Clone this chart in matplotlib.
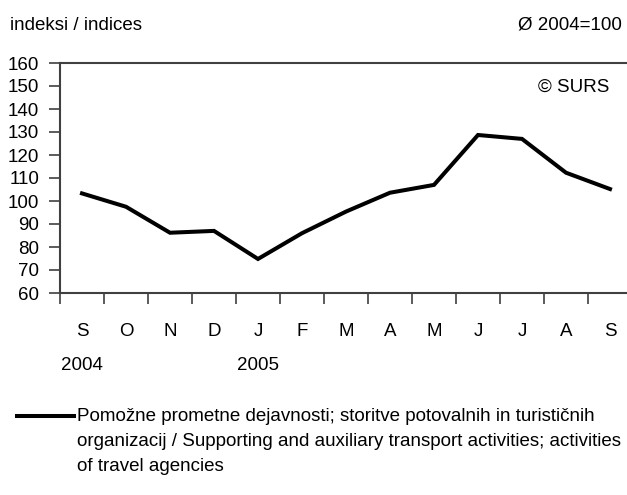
import matplotlib.pyplot as plt
import numpy as np

# Podatki (indeksi, povprecje 2004 = 100)
meseci = ['S', 'O', 'N', 'D', 'J', 'F', 'M', 'A', 'M', 'J', 'J', 'A', 'S']
leta = ['2004', '2005']
leta_pozicija = [0, 4]
indeksi = [103.3, 97.5, 86.2, 87.0, 74.8, 86.0, 95.4, 103.6, 107.0, 128.7, 127.0, 112.3, 105.2]
y_oznake = list(range(60, 170, 10))

legenda = ('Pomožne prometne dejavnosti; storitve potovalnih in turističnih\n'
           'organizacij / Supporting and auxiliary transport activities; activities\n'
           'of travel agencies')

plt.rcParams['font.family'] = ['Liberation Sans', 'DejaVu Sans']
fs = 13.5
siva = '#404040'

W, H = 627, 495
fig = plt.figure(figsize=(W / 100, H / 100), dpi=100)
ax = fig.add_axes([60 / W, 1 - 293 / H, 567 / W, (293 - 63) / H])

x = np.arange(len(meseci))
ax.plot(x, indeksi, color='black', linewidth=2.9, solid_joinstyle='miter')

ax.set_ylim(60, 160)
ax.set_xlim(-0.5, -0.5 + 567 / 44)
ax.set_yticks(y_oznake)
ax.set_yticklabels([str(v) for v in y_oznake], fontsize=fs)
ax.set_xticks(np.arange(-0.5, 12, 1))
ax.set_xticklabels([])

for s in ['left', 'top', 'bottom']:
    ax.spines[s].set_color(siva)
    ax.spines[s].set_linewidth(1.5)
ax.spines['right'].set_visible(False)
ax.tick_params(axis='both', direction='out', length=8, width=1.2, color=siva)
ax.tick_params(axis='y', pad=7)

# mesecne oznake in leta
for i, m in enumerate(meseci):
    ax.text(i, 1 - (332 - 63) / 230, m, transform=ax.get_xaxis_transform(),
            ha='center', va='center', fontsize=fs)
for p, l in zip(leta_pozicija, leta):
    ax.text(p, 1 - (366 - 63) / 230, l, transform=ax.get_xaxis_transform(),
            ha='center', va='center', fontsize=fs)

fig.text(10 / W, 1 - 25 / H, 'indeksi / indices', ha='left', va='center', fontsize=fs)
fig.text(622 / W, 1 - 25 / H, 'Ø 2004=100', ha='right', va='center', fontsize=fs)
fig.text(609 / W, 1 - 87 / H, '© SURS', ha='right', va='center', fontsize=fs)

# legenda
fig.add_artist(plt.Line2D([17 / W, 74 / W], [1 - 416 / H, 1 - 416 / H],
                          color='black', linewidth=2.9))
fig.text(77 / W, 1 - 408 / H, legenda, ha='left', va='top', fontsize=fs,
         linespacing=1.6)

fig.savefig('out.png', dpi=100)
